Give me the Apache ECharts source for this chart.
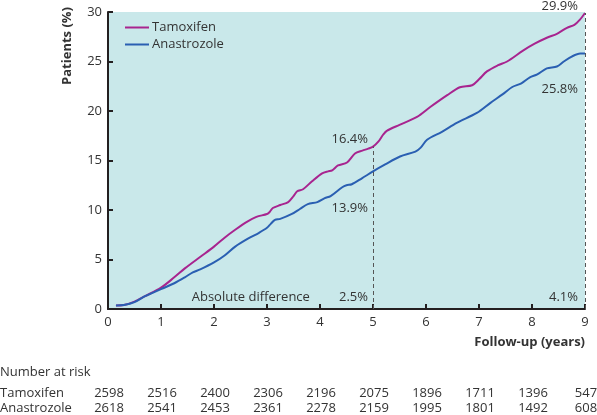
<!DOCTYPE html>
<html>
<head>
<meta charset="utf-8">
<script src="https://cdn.jsdelivr.net/npm/echarts@6/dist/echarts.min.js"></script>
<style>html,body{margin:0;padding:0;background:#fff}#c{width:597px;height:415px}</style>
</head>
<body>
<div id="c"></div>
<script>
const xTicks = [0,1,2,3,4,5,6,7,8,9];
const yTicks = [0,5,10,15,20,25,30];
const tamoxifen = [[0.15,0.35],[0.3,0.4],[0.5,0.75],[0.7,1.3],[1.0,2.15],[1.25,3.2],[1.45,4.1],[1.75,5.3],[2.0,6.3],[2.2,7.2],[2.4,8.0],[2.62,8.8],[2.8,9.3],[3.0,9.6],[3.05,9.8],[3.11,10.2],[3.25,10.5],[3.4,10.8],[3.5,11.4],[3.57,11.9],[3.68,12.1],[3.85,12.9],[4.04,13.7],[4.15,13.9],[4.23,14.0],[4.34,14.5],[4.51,14.8],[4.66,15.7],[4.8,16.0],[4.91,16.2],[5.0,16.4],[5.1,16.9],[5.19,17.6],[5.26,18.0],[5.5,18.6],[5.83,19.4],[6.08,20.4],[6.4,21.6],[6.64,22.4],[6.87,22.6],[7.0,23.2],[7.15,24.0],[7.35,24.6],[7.53,25.0],[7.83,26.1],[8.05,26.8],[8.28,27.4],[8.47,27.8],[8.66,28.4],[8.8,28.7],[8.9,29.2],[9.0,29.9]];
const anastrozole = [[0.15,0.35],[0.3,0.4],[0.5,0.7],[0.7,1.3],[1.0,2.0],[1.25,2.6],[1.45,3.2],[1.6,3.7],[1.74,4.0],[2.0,4.7],[2.2,5.4],[2.4,6.3],[2.64,7.1],[2.85,7.7],[3.0,8.2],[3.07,8.6],[3.15,9.0],[3.25,9.1],[3.47,9.6],[3.62,10.1],[3.77,10.6],[3.95,10.8],[4.09,11.2],[4.2,11.4],[4.42,12.3],[4.5,12.5],[4.6,12.6],[4.79,13.2],[5.0,13.9],[5.23,14.6],[5.51,15.4],[5.8,15.9],[5.9,16.3],[6.02,17.1],[6.3,17.9],[6.58,18.8],[6.96,19.8],[7.21,20.8],[7.45,21.7],[7.62,22.4],[7.8,22.8],[7.96,23.4],[8.1,23.7],[8.28,24.3],[8.47,24.5],[8.6,25.0],[8.75,25.5],[8.91,25.8],[9.0,25.8]];
const tamoxifenRisk = [2598,2516,2400,2306,2196,2075,1896,1711,1396,547];
const anastrozoleRisk = [2618,2541,2453,2361,2278,2159,1995,1801,1492,608];
const marks = [[5,16.4,13.9,'2.5%'],[9,29.9,25.8,'4.1%']];

const FONT = '"Open Sans", sans-serif';
const TXT = '#333333';
const AX = '#231f20';
const chart = echarts.init(document.getElementById('c'), null, {renderer:'canvas'});
chart.setOption({
  animation:false,
  grid:{left:108,right:12,top:12,bottom:106,show:true,backgroundColor:'#c9e8ea',borderWidth:0},
  legend:{orient:'vertical',left:120,top:16,itemGap:4,itemWidth:24,itemHeight:2,icon:'rect',
    textStyle:{fontFamily:FONT,fontSize:13,color:TXT,padding:[0,0,0,-2]},
    data:['Tamoxifen','Anastrozole']},
  xAxis:{type:'value',min:0,max:9,interval:1,
    axisLine:{lineStyle:{color:AX,width:2}},
    axisTick:{inside:true,length:5,lineStyle:{color:AX,width:2}},
    axisLabel:{fontFamily:FONT,fontSize:13,color:TXT,margin:7},
    splitLine:{show:false}},
  yAxis:{type:'value',min:0,max:30,interval:5,
    axisLine:{show:true,lineStyle:{color:AX,width:2}},
    axisTick:{show:true,inside:true,length:5,lineStyle:{color:AX,width:2}},
    axisLabel:{fontFamily:FONT,fontSize:13,color:TXT,margin:6},
    splitLine:{show:false}},
  series:[
    {name:'Tamoxifen',type:'line',data:tamoxifen,symbol:'none',smooth:0.3,
      lineStyle:{color:'#a8248f',width:2},itemStyle:{color:'#a8248f'},
      markLine:{silent:true,symbol:['none','none'],label:{show:false},
        lineStyle:{color:'#555',type:[4,3],width:1},
        data:marks.map(m=>[{coord:[m[0],0]},{coord:[m[0],m[1]]}])}},
    {name:'Anastrozole',type:'line',data:anastrozole,symbol:'none',smooth:0.3,
      lineStyle:{color:'#2a5fb2',width:2},itemStyle:{color:'#2a5fb2'}}
  ]
});

function px(x,y){return chart.convertToPixel({gridIndex:0},[x,y]);}
const g = [];
function txt(x,y,s,align,opts){
  g.push(Object.assign({type:'text',x:x,y:y,style:Object.assign({text:s,fill:TXT,font:'13px '+FONT,textAlign:align||'left',textVerticalAlign:'middle'},opts||{})}));
}
marks.forEach((m,i)=>{
  const top = px(m[0],m[1]);
  const bot = px(m[0],m[2]);
  const base = px(m[0],0);
  const dx = i===0 ? -5 : -7;
  txt(top[0]+dx, top[1]-7, m[1].toFixed(1)+'%','right');
  txt(bot[0]+dx, i===0 ? bot[1]+37 : bot[1]+36, m[2].toFixed(1)+'%','right');
  txt(base[0]+dx, base[1]-12, m[3],'right');
});
const ad = px(1.58,0);
txt(ad[0], ad[1]-12, 'Absolute difference','left');
g.push({type:'text',x:67,y:46,rotation:Math.PI/2,style:{text:'Patients (%)',fill:TXT,font:'bold 13px '+FONT,textAlign:'center',textVerticalAlign:'middle'}});
const xr = px(9,0);
txt(xr[0], 342, 'Follow-up (years)','right',{font:'bold 13px '+FONT});
txt(0, 372, 'Number at risk','left');
txt(0, 393, 'Tamoxifen','left');
txt(0, 408, 'Anastrozole','left');
xTicks.forEach((t,i)=>{
  const p = px(t,0);
  txt(p[0]+1, 393, String(tamoxifenRisk[i]),'center');
  txt(p[0]+1, 408, String(anastrozoleRisk[i]),'center');
});
chart.setOption({graphic:{elements:g}});
</script>
</body>
</html>
